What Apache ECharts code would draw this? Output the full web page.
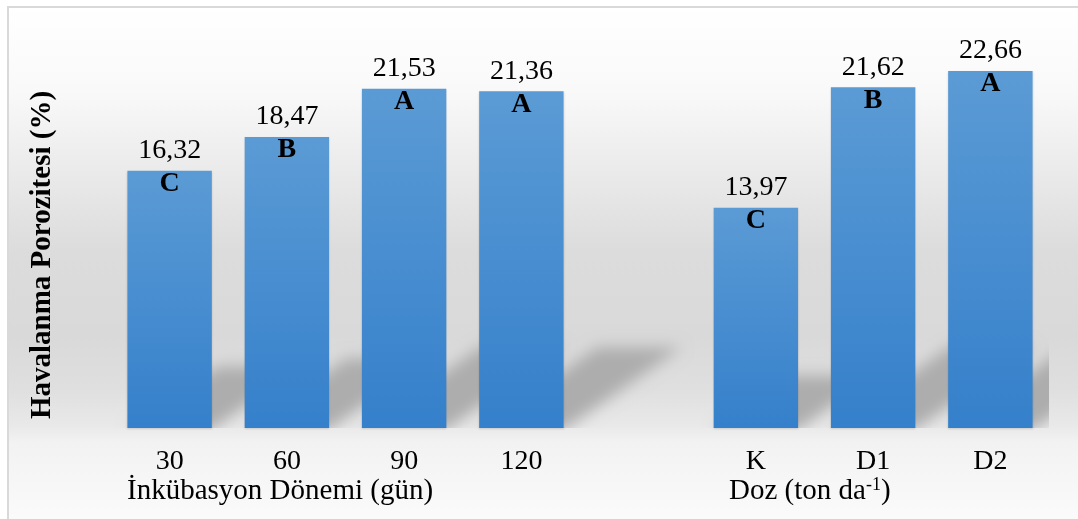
<!DOCTYPE html>
<html>
<head>
<meta charset="utf-8">
<style>
  html, body { margin: 0; padding: 0; background: #ffffff; }
  #chart { width: 1078px; height: 519px; }
</style>
<script src="https://cdn.jsdelivr.net/npm/echarts@6/dist/echarts.min.js"></script>
</head>
<body>
<div id="chart"></div>
<script>
// Havalanma porozitesi: incubation periods, an empty spacer slot, then doses
const categories = ['30', '60', '90', '120', '', 'K', 'D1', 'D2'];
const porosity = [16.32, 18.47, 21.53, 21.36, null, 13.97, 21.62, 22.66];
const groupLetters = ['C', 'B', 'A', 'A', '', 'C', 'B', 'A'];
const yAxisTitle = 'Havalanma Porozitesi (%)';
const periodTitle = 'İnkübasyon Dönemi (gün)';
const doseTitle = ['Doz (ton da', '-1', ')'];

const SERIF = '"Liberation Serif", "Times New Roman", serif';
const BAR_RATIO = 0.72;

const barData = porosity.map(v => (v == null ? '-' : v));
const castData = porosity
  .map((v, i) => (v == null ? null : [i, v]))
  .filter(d => d !== null);

const chart = echarts.init(document.getElementById('chart'), null, { renderer: 'canvas' });

chart.setOption({
  animation: false,
  backgroundColor: 'transparent',
  grid: { left: 111, right: 29, top: 34, bottom: 91, containLabel: false },
  xAxis: {
    type: 'category',
    data: categories,
    axisLine: { show: false },
    axisTick: { show: false },
    splitLine: { show: false },
    axisLabel: { color: '#000', fontFamily: SERIF, fontSize: 28, margin: 20 }
  },
  yAxis: { type: 'value', min: 0, max: 25, show: false },
  graphic: [
    {
      type: 'rect', z: -10, silent: true,
      shape: { x: 8, y: 7, width: 1090, height: 530 },
      style: {
        stroke: '#d9d9d9', lineWidth: 2,
        fill: {
          type: 'linear', x: 0, y: 0, x2: 0, y2: 1,
          colorStops: [
            { offset: 0.00, color: '#ffffff' },
            { offset: 0.16, color: '#f9f9f9' },
            { offset: 0.46, color: '#dcdcdc' },
            { offset: 0.62, color: '#d9d9d9' },
            { offset: 0.72, color: '#dfdfdf' },
            { offset: 0.79, color: '#e9e9e9' },
            { offset: 0.82, color: '#f2f2f2' },
            { offset: 0.97, color: '#fbfbfb' },
            { offset: 1.00, color: '#fdfdfd' }
          ]
        }
      }
    },
    {
      type: 'text', silent: true, z: 10,
      x: 43, y: 255, rotation: Math.PI / 2,
      style: {
        text: yAxisTitle, fill: '#000', fontFamily: SERIF, fontSize: 29, fontWeight: 'bold',
        align: 'center', verticalAlign: 'middle'
      }
    },
    {
      type: 'text', silent: true, z: 10,
      x: 127, y: 491,
      style: {
        text: periodTitle, fill: '#000', fontFamily: SERIF, fontSize: 29,
        align: 'left', verticalAlign: 'middle'
      }
    },
    {
      type: 'text', silent: true, z: 10,
      x: 729, y: 491,
      style: {
        text: '{a|' + doseTitle[0] + '}{s|' + doseTitle[1] + '}{a|' + doseTitle[2] + '}',
        fill: '#000', fontFamily: SERIF, fontSize: 29,
        align: 'left', verticalAlign: 'middle',
        rich: {
          a: { fontFamily: SERIF, fontSize: 29, lineHeight: 30, fill: '#000' },
          s: { fontFamily: SERIF, fontSize: 18, lineHeight: 30, verticalAlign: 'top', fill: '#000', padding: [0, 0, 12, 0] }
        }
      }
    }
  ],
  series: [
    {
      // soft perspective shadows cast by the bars onto the back wall
      type: 'custom',
      z: 1,
      clip: true,
      silent: true,
      data: castData,
      renderItem: function (params, api) {
        const idx = api.value(0);
        const val = api.value(1);
        const top = api.coord([idx, val]);
        const base = api.coord([idx, 0]);
        const bw = api.size([1, 0])[0] * BAR_RATIO;
        const x0 = top[0] - bw / 2;
        const x1 = top[0] + bw / 2;
        const yb = base[1];
        const h = yb - top[1];
        const dx = 0.35 * h;
        const dy = 0.24 * h;
        const OFF = 4000;
        return {
          type: 'polygon',
          shape: {
            points: [
              [x0 - OFF, yb + 2], [x1 - OFF, yb + 2],
              [x1 + dx - OFF, yb - dy], [x0 + dx - OFF, yb - dy]
            ]
          },
          style: {
            fill: '#adadad',
            shadowColor: '#adadad',
            shadowBlur: 15,
            shadowOffsetX: OFF,
            shadowOffsetY: 0
          }
        };
      }
    },
    {
      type: 'bar',
      z: 2,
      barWidth: (BAR_RATIO * 100) + '%',
      data: barData,
      itemStyle: {
        color: {
          type: 'linear', x: 0, y: 0, x2: 0, y2: 1,
          colorStops: [
            { offset: 0, color: '#5b9bd5' },
            { offset: 1, color: '#3580cb' }
          ]
        },
        shadowColor: 'rgba(0,0,0,0.15)',
        shadowBlur: 2,
        shadowOffsetY: 1
      },
      label: {
        show: true,
        position: 'top',
        distance: 6,
        color: '#000',
        fontFamily: SERIF,
        fontSize: 28,
        formatter: p => Number(p.value).toFixed(2).replace('.', ',')
      }
    },
    {
      type: 'bar',
      z: 3,
      barWidth: (BAR_RATIO * 100) + '%',
      barGap: '-100%',
      data: barData,
      itemStyle: { color: 'rgba(0,0,0,0)' },
      label: {
        show: true,
        position: 'insideTop',
        distance: -1,
        color: '#000',
        fontFamily: SERIF,
        fontSize: 28,
        fontWeight: 'bold',
        formatter: p => groupLetters[p.dataIndex]
      }
    }
  ]
});
</script>
</body>
</html>
